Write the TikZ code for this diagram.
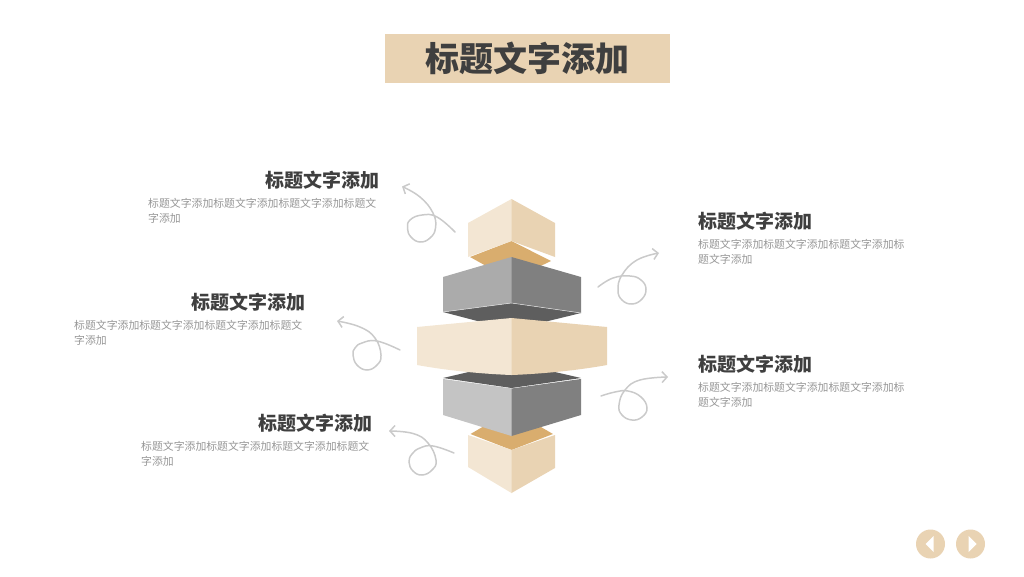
\documentclass[tikz,border=0pt]{standalone}
\usepackage{fontspec}
\usepackage{xcolor}
\usetikzlibrary{arrows.meta}
\setmainfont{Noto Sans CJK SC}

\definecolor{creamL}{HTML}{F3E6D3}
\definecolor{creamR}{HTML}{E9D3B3}
\definecolor{gold}{HTML}{D9AD6E}
\definecolor{grayA}{HTML}{ABABAB}
\definecolor{grayB}{HTML}{808080}
\definecolor{grayC}{HTML}{C4C4C4}
\definecolor{grayD}{HTML}{5E5E5E}
\definecolor{headtext}{HTML}{3F3F3F}
\definecolor{bodytext}{HTML}{969696}
\definecolor{curlcol}{HTML}{CACACA}

\tikzset{
  heading/.style={inner sep=0pt,text=headtext,font=\fontsize{19}{19}\selectfont\bfseries},
  bodyblock/.style={inner sep=0pt,anchor=north west,align=left,text=bodytext,font=\fontsize{10.86}{15}\selectfont},
  curl/.style={curlcol,line width=1.5pt,line cap=round,-{Straight Barb[length=5pt,width=11pt]}},
  face/.style={draw=none},
  navbtn/.style={circle,fill=creamR,minimum size=29pt,inner sep=0pt}
}

\begin{document}
\begin{tikzpicture}[x=1pt,y=-1pt]
    \useasboundingbox (0,0) rectangle (1024,576);

    % title
    \node (title) [fill=creamR,minimum width=285pt,minimum height=49pt,inner sep=0pt,
      text=headtext,font=\fontsize{34}{34}\selectfont\bfseries] at (527.5,58.5) {标题文字添加};

    % top block
    \fill [face,gold] (470,257) -- (511.5,241) -- (551,261) -- (511.5,280) -- cycle;
    \fill [face,creamL] (512,199) -- (511.5,199) -- (468,223) -- (468,257) -- (511.5,241) -- (512,241) -- cycle;
    \fill [face,creamR] (511.5,199) -- (555,223) -- (555,257) -- (511.5,241) -- cycle;
    % upper grey box
    \fill [face,grayD] (443,312) -- (511.5,303) -- (581,313) -- (511.5,330) -- cycle;
    \fill [face,grayA] (512,257) -- (511.5,257) -- (443,277) -- (443,312) -- (511.5,303) -- (512,303) -- cycle;
    \fill [face,grayB] (511.5,257) -- (581,277) -- (581,313) -- (511.5,303) -- cycle;
    \draw [white!75!gray,line width=0.5pt] (443,312) -- (511.5,303) -- (581,313);
    % bottom block
    \fill [face,gold] (470.5,434) -- (511.5,410) -- (553,434) -- (511.5,450) -- cycle;
    \fill [face,creamL] (468,435) -- (512,450) -- (512,493) -- (511.5,493) -- (468,467) -- cycle;
    \fill [face,creamR] (555,435) -- (511.5,450) -- (511.5,493) -- (555,468) -- cycle;
    % lower grey box
    \fill [face,grayD] (443,378) -- (511.5,362) -- (581,378) -- (511.5,388) -- cycle;
    \fill [face,grayC] (443,379) -- (512,388.5) -- (512,436) -- (511.5,436) -- (443,415) -- cycle;
    \fill [face,grayB] (581,379) -- (511.5,388.5) -- (511.5,436) -- (581,415) -- cycle;
    % middle slab
    \fill [face,creamL] (512,318) -- (511.5,318) -- (417,327) -- (417,365) .. controls (450,371) and (485,374) .. (511.5,375) -- (512,375) -- cycle;
    \fill [face,creamR] (511.5,318) -- (607,327) -- (607,365) .. controls (574,371) and (538,374) .. (511.5,375) -- cycle;

    % left column
    \node (headA) [heading,anchor=east] at (380,180) {标题文字添加};
    \node (bodyA) [bodyblock] at (148,198.5) {标题文字添加标题文字添加标题文字添加标题文\\字添加};
    \node (headB) [heading,anchor=east] at (306,302) {标题文字添加};
    \node (bodyB) [bodyblock] at (74,320.5) {标题文字添加标题文字添加标题文字添加标题文\\字添加};
    \node (headC) [heading,anchor=east] at (373,423) {标题文字添加};
    \node (bodyC) [bodyblock] at (141,441.5) {标题文字添加标题文字添加标题文字添加标题文\\字添加};
    % right column
    \node (headD) [heading,anchor=west] at (698,221) {标题文字添加};
    \node (bodyD) [bodyblock] at (698,239.5) {标题文字添加标题文字添加标题文字添加标\\题文字添加};
    \node (headE) [heading,anchor=west] at (698,364) {标题文字添加};
    \node (bodyE) [bodyblock] at (698,382.5) {标题文字添加标题文字添加标题文字添加标\\题文字添加};

    % curly arrows
    \draw [curl] plot [smooth,tension=0.75] coordinates {(455,232) (437,217) (422,215) (410,220) (407.5,228.5) (411,237) (420,242) (430,238) (435.5,228) (433,213) (420,197) (402,186.5)};
    \draw [curl] plot [smooth,tension=0.75] coordinates {(400,350) (377,341) (362,343) (355,348) (353,355) (357,365) (367,370) (377,365) (381,355) (375,338) (360,327) (337,321)};
    \draw [curl] plot [smooth,tension=0.75] coordinates {(454,453) (433,446) (420,448) (412,454) (409,462) (413,471) (422,475) (432,470) (436,460) (428,443) (413,433.5) (389,431)};
    \draw [curl] plot [smooth,tension=0.75] coordinates {(598,287) (613,278) (630,276) (641,280) (646,289) (642,299) (632,304) (622,300) (618,290) (622,275) (637,260) (659,253)};
    \draw [curl] plot [smooth,tension=0.75] coordinates {(601,396) (615,392) (628,391) (641,397) (647,408) (642,417) (632,420) (622,415) (619,405) (625,390) (640,380) (668,377)};

    % nav buttons
    \node (prevbtn) [navbtn] at (930.5,544) {};
    \node (nextbtn) [navbtn] at (970.5,544) {};
    \fill [white] (925.5,544) -- (933.5,536) -- (933.5,552) -- cycle;
    \fill [white] (976.5,544) -- (968.5,536) -- (968.5,552) -- cycle;
\end{tikzpicture}
\end{document}
